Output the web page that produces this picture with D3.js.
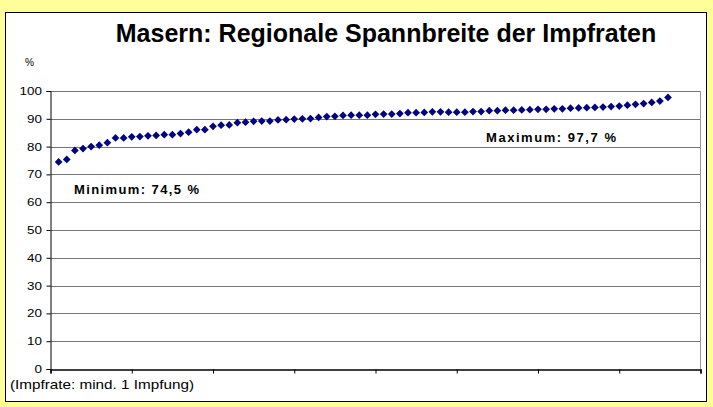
<!DOCTYPE html>
<html>
<head>
<meta charset="utf-8">
<script src="https://cdn.jsdelivr.net/npm/d3@7"></script>
<style>
  body { margin: 0; background: #ffff99; }
  svg { display: block; font-family: "Liberation Sans", Arial, sans-serif; }
</style>
</head>
<body>
<div id="chart"></div>
<script>
// Impfraten je Region, aufsteigend sortiert
const rates = [
  74.5, 75.4, 78.6, 79.3, 80.0, 80.5, 81.4, 83.1, 83.1, 83.5,
  83.6, 83.9, 84.0, 84.3, 84.3, 84.7, 85.2, 86.1, 86.1, 87.3,
  87.7, 87.8, 88.6, 88.8, 89.1, 89.2, 89.2, 89.6, 89.7, 89.9,
  90.0, 90.1, 90.5, 90.8, 90.9, 91.2, 91.3, 91.3, 91.3, 91.6,
  91.7, 91.7, 91.9, 92.2, 92.2, 92.3, 92.5, 92.5, 92.4, 92.4,
  92.4, 92.6, 92.6, 92.9, 92.9, 93.1, 93.1, 93.2, 93.3, 93.4,
  93.4, 93.6, 93.6, 93.8, 93.9, 94.0, 94.1, 94.2, 94.4, 94.6,
  94.9, 95.2, 95.5, 95.9, 96.4, 97.7
];
const yTicks = [0, 10, 20, 30, 40, 50, 60, 70, 80, 90, 100];
const xTicks = [0, 10, 20, 30, 40, 50, 60, 70, 80];
const title = "Masern: Regionale Spannbreite der Impfraten";
const minLabel = "Minimum: 74,5 %";
const maxLabel = "Maximum: 97,7 %";
const note = "(Impfrate: mind. 1 Impfung)";

const width = 713, height = 407;
const plot = { left: 50.5, right: 700.5, top: 91, bottom: 369 };

const svg = d3.select("#chart").append("svg")
  .attr("width", width).attr("height", height);

// weisse Diagrammflaeche auf gelbem Grund
svg.append("rect")
  .attr("x", 5.5).attr("y", 12.5)
  .attr("width", 701).attr("height", 389)
  .attr("fill", "#fff").attr("stroke", "#000");

const x = d3.scaleLinear().domain([0, 80]).range([plot.left, plot.right]);
const y = d3.scaleLinear().domain([0, 100]).range([plot.bottom, plot.top]);

// Gitterlinien
svg.append("g")
  .selectAll("line")
  .data(yTicks.filter(d => d > 0))
  .enter().append("line")
  .attr("x1", plot.left).attr("x2", plot.right)
  .attr("y1", d => Math.round(y(d)) + 0.5).attr("y2", d => Math.round(y(d)) + 0.5)
  .attr("stroke", "#777");

// rechter Rand der Zeichenflaeche
svg.append("line")
  .attr("x1", plot.right).attr("x2", plot.right)
  .attr("y1", y(100)).attr("y2", y(0))
  .attr("stroke", "#999");

// y-Achse
const yAxis = svg.append("g")
  .attr("transform", `translate(${plot.left},0)`)
  .call(d3.axisLeft(y).tickValues(yTicks).tickSize(4).tickPadding(3));
yAxis.select(".domain").attr("stroke", "#000");
yAxis.selectAll("text")
  .attr("font-size", 11).attr("fill", "#000")
  .attr("font-family", "Liberation Sans, Arial, sans-serif")
  .attr("transform", "scale(1.22,1)");

// x-Achse (nur Teilstriche)
const xAxis = svg.append("g")
  .attr("transform", `translate(0,${plot.bottom + 0.5})`)
  .call(d3.axisBottom(x).tickValues(xTicks).tickSize(4).tickFormat(""));
xAxis.select(".domain").attr("stroke", "#000").attr("stroke-width", 1.5);

svg.append("text")
  .attr("x", 25).attr("y", 66)
  .attr("font-size", 11)
  .attr("textLength", 9).attr("lengthAdjust", "spacingAndGlyphs")
  .text("%");

// Datenpunkte als Rauten
const diamond = d3.symbol().type(d3.symbolSquare).size(30);
svg.append("g")
  .selectAll("path")
  .data(rates)
  .enter().append("path")
  .attr("d", diamond)
  .attr("transform", (d, i) => `translate(${x(i + 1)},${y(d)}) rotate(45)`)
  .attr("fill", "#000080");

// Titel
svg.append("text")
  .attr("x", 386).attr("y", 42)
  .attr("text-anchor", "middle")
  .attr("font-size", 25).attr("font-weight", "bold")
  .text(title);

// Beschriftungen Minimum / Maximum
svg.append("text")
  .attr("x", 74).attr("y", 194)
  .attr("font-size", 13).attr("font-weight", "bold")
  .attr("textLength", 125).attr("lengthAdjust", "spacing")
  .text(minLabel);

svg.append("text")
  .attr("x", 486).attr("y", 142)
  .attr("font-size", 13).attr("font-weight", "bold")
  .attr("textLength", 130).attr("lengthAdjust", "spacing")
  .text(maxLabel);

// Fussnote
svg.append("text")
  .attr("x", 10).attr("y", 389)
  .attr("font-size", 13)
  .attr("textLength", 184).attr("lengthAdjust", "spacingAndGlyphs")
  .text(note);
</script>
</body>
</html>
